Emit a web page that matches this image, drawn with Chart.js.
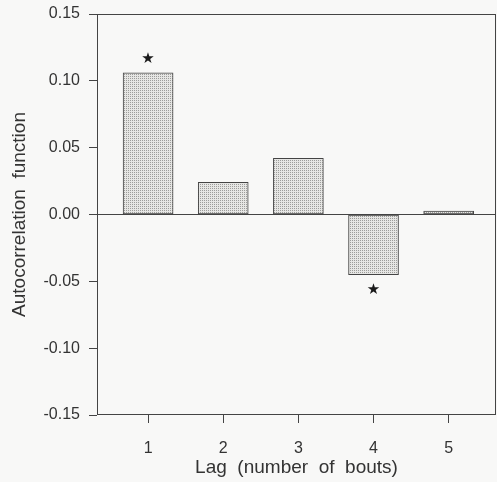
<!DOCTYPE html>
<html>
<head>
<meta charset="utf-8">
<script src="https://cdn.jsdelivr.net/npm/chart.js@4.4.1/dist/chart.umd.min.js"></script>
<style>
  html, body { margin: 0; padding: 0; background: #f8f8f7; }
  #wrap { width: 497px; height: 482px; }
</style>
</head>
<body>
<div id="wrap"><canvas id="myChart" width="497" height="482"></canvas></div>
<script>
// data
const lags = [1, 2, 3, 4, 5];
const acf = [0.106, 0.024, 0.042, -0.045, 0.0025];
const significant = [true, false, false, true, false];
const yTicks = [-0.15, -0.10, -0.05, 0.00, 0.05, 0.10, 0.15];

const ink = '#444';
const font = "'Liberation Sans', Arial, sans-serif";

function makePattern() {
    const c = document.createElement('canvas');
    c.width = 2;
    c.height = 2;
    const g = c.getContext('2d');
    g.fillStyle = '#e6e6e4';
    g.fillRect(0, 0, 2, 2);
    g.fillStyle = '#9c9c9a';
    g.fillRect(0, 0, 1, 1);
    return g.createPattern(c, 'repeat');
}

const framePlugin = {
    id: 'frame',
    afterDatasetsDraw(chart) {
        const { ctx, chartArea: a, scales } = chart;
        ctx.save();
        ctx.strokeStyle = ink;
        ctx.lineWidth = 1;
        ctx.strokeRect(a.left + 0.5, a.top + 0.5, a.right - a.left - 1, a.bottom - a.top - 1);
        // stars over significant lags
        ctx.fillStyle = '#1a1a1a';
        ctx.font = "15px 'DejaVu Sans'";
        ctx.textAlign = 'center';
        ctx.textBaseline = 'middle';
        lags.forEach((lag, i) => {
            if (!significant[i]) return;
            const x = scales.x.getPixelForValue(lag);
            const y = scales.y.getPixelForValue(acf[i]);
            ctx.fillText('\u2605', x, acf[i] >= 0 ? y - 14 : y + 15);
        });
        ctx.restore();
    }
};

const ctx = document.getElementById('myChart');

new Chart(ctx, {
    type: 'bar',
    data: {
        datasets: [{
            data: lags.map((lag, i) => ({ x: lag, y: acf[i] })),
            backgroundColor: makePattern(),
            borderColor: ink,
            borderWidth: 1,
            borderSkipped: false,
            barThickness: 50
        }]
    },
    options: {
        responsive: false,
        animation: false,
        layout: { padding: { top: 14, right: 1, left: 0, bottom: 0 } },
        plugins: {
            legend: { display: false },
            tooltip: { enabled: false }
        },
        scales: {
            x: {
                type: 'linear',
                offset: false,
                min: 0.32,
                max: 5.63,
                afterBuildTicks: (scale) => { scale.ticks = lags.map(v => ({ value: v })); },
                afterFit: (scale) => { scale.height = 67; scale.paddingLeft = 0; scale.paddingRight = 0; },
                border: { display: false },
                grid: { offset: false, drawOnChartArea: false, tickLength: 8, tickColor: ink },
                ticks: { color: '#333', font: { family: font, size: 16 }, padding: 16 },
                title: {
                    display: true,
                    text: 'Lag  (number  of  bouts)',
                    color: '#333',
                    font: { family: font, size: 19 },
                    padding: { top: 0, bottom: 3 }
                }
            },
            y: {
                min: -0.15,
                max: 0.15,
                afterBuildTicks: (scale) => { scale.ticks = yTicks.map(v => ({ value: v })); },
                afterFit: (scale) => { scale.width = 97; scale.paddingTop = 0; scale.paddingBottom = 0; },
                border: { display: false },
                grid: {
                    tickLength: 8,
                    tickColor: ink,
                    color: (c) => (c.tick && Math.abs(c.tick.value) < 1e-9 ? ink : 'transparent')
                },
                ticks: {
                    color: '#333',
                    font: { family: font, size: 16 },
                    padding: 9,
                    callback: (v) => v.toFixed(2)
                },
                title: {
                    display: true,
                    text: 'Autocorrelation  function',
                    color: '#333',
                    font: { family: font, size: 19 },
                    padding: { top: 8, bottom: 0 }
                }
            }
        }
    },
    plugins: [framePlugin]
});
</script>
</body>
</html>
